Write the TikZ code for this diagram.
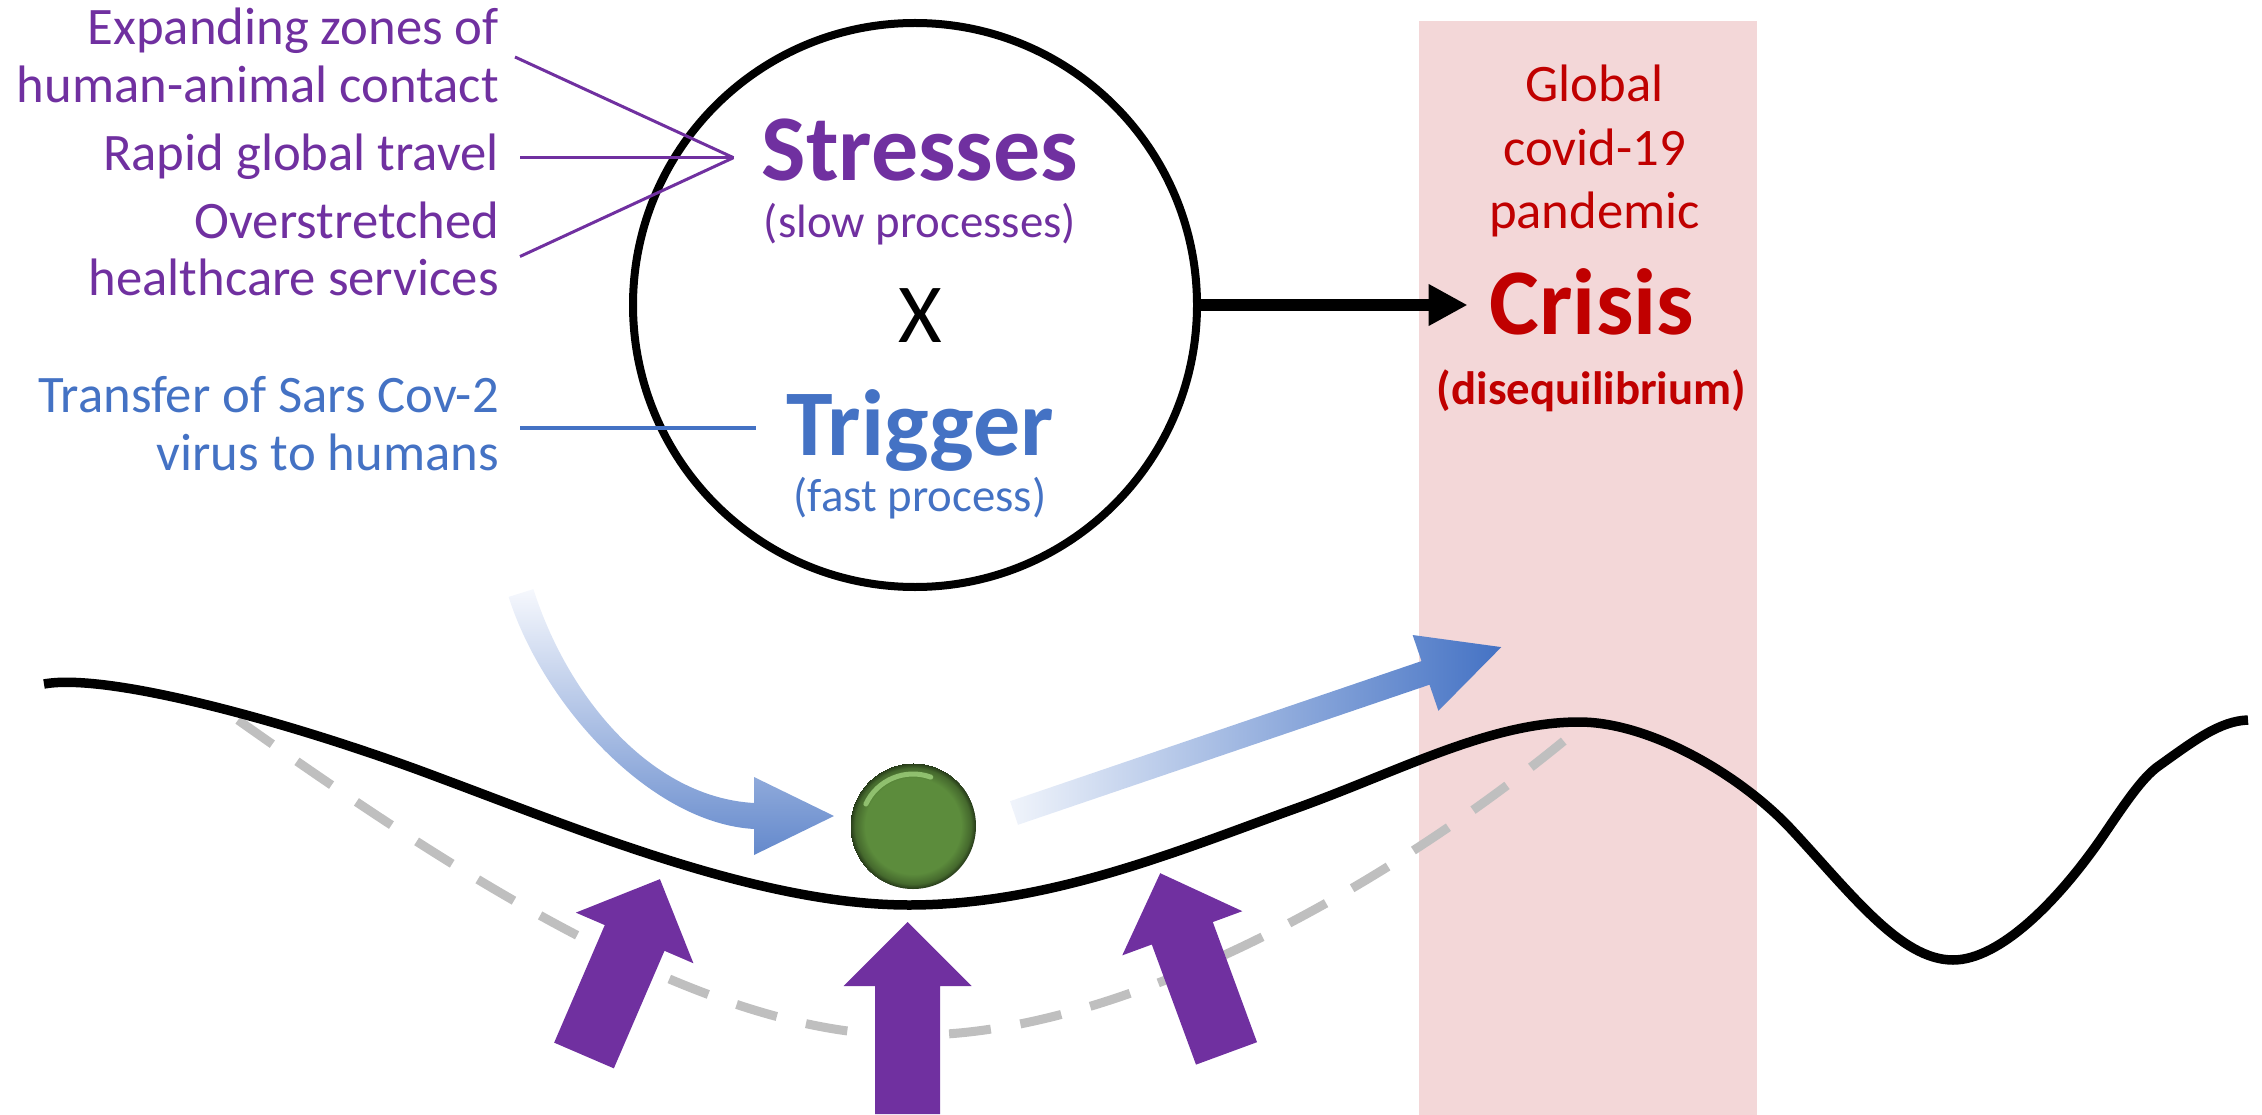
\documentclass[tikz,border=0pt]{standalone}
\usepackage{fontspec}
\setmainfont{Carlito}
\usetikzlibrary{arrows.meta,calc}

\definecolor{purp}{HTML}{7030A0}
\definecolor{tblue}{HTML}{4472C4}
\definecolor{cred}{HTML}{C00000}
\definecolor{pinkbg}{RGB}{243,215,216}
\definecolor{pathgray}{HTML}{BFBFBF}
\definecolor{ballg}{RGB}{92,140,60}
\definecolor{ballhi}{RGB}{165,215,130}
\definecolor{flowlight}{RGB}{246,248,253}
\definecolor{flowdeep}{RGB}{100,137,204}
\definecolor{flowtail}{RGB}{240,244,251}

\pgfdeclareradialshading{ballshade}{\pgfpoint{0bp}{0bp}}{%
  color(0bp)=(ballg); color(19bp)=(ballg); color(23bp)=(ballg!75!black); color(25bp)=(ballg!40!black)}

\begin{document}
\begin{tikzpicture}[x=1pt,y=-1pt,
  lab/.style={inner sep=0pt, font=\fontsize{52.7}{57.7}\selectfont, align=right, anchor=base east},
  headword/.style={inner sep=0pt, font=\bfseries\fontsize{94}{100}\selectfont, anchor=base},
  subword/.style={inner sep=0pt, font=\fontsize{46.8}{52}\selectfont, anchor=base},
  feed/.style={line width=3pt},
  blockarrow/.style={fill=purp},
]
\useasboundingbox (0,0) rectangle (2262,1115);

% crisis column
\fill[pinkbg] (1419,21) rectangle (1757,1115);

% underlying (dashed) stability basin
\draw[pathgray, line width=9pt, dash pattern=on 42pt off 30pt]
  (238,720) .. controls (450,870) and (700,1035) .. (905,1035)
  .. controls (1120,1040) and (1400,880) .. (1583,725);

% stability landscape
\draw[line width=9.5pt]
  (44,684) .. controls (110,672) and (300,725) .. (440,778)
  .. controls (580,830) and (760,905) .. (909,905)
  .. controls (1050,905) and (1180,850) .. (1297,808)
  .. controls (1400,771) and (1490,722) .. (1579,722)
  .. controls (1650,722) and (1740,775) .. (1790,828)
  .. controls (1850,892) and (1900,960) .. (1953,960)
  .. controls (2000,960) and (2060,900) .. (2107,830)
  .. controls (2130,796) and (2145,775) .. (2160,765)
  .. controls (2195,740) and (2220,721) .. (2248,720);

% purple support arrows
\foreach \px/\py/\ang in {584/1055.5/66.7, 907.5/1114/90, 1226.5/1053.4/110.2}{
  \begin{scope}[shift={(\px,\py)}, rotate=\ang]
    \fill[blockarrow] (0,-32.5) -- (128,-32.5) -- (128,-64) -- (192,0) -- (128,64)
      -- (128,32.5) -- (0,32.5) -- cycle;
  \end{scope}
}

% trigger arrow pushing the ball
\shade[top color=flowlight, bottom color=flowdeep]
  (508.6,596.9) .. controls (542.6,703.9) and (650,823) .. (754,829)
  -- (754,855) -- (834,816) -- (754,777) -- (754,803)
  .. controls (650,797) and (567.4,696.1) .. (533.4,589.1) -- cycle;

% arrow towards the crisis
\shade[left color=flowtail, right color=tblue]
  (1018.0,824.8) -- (1429.5,684.7) -- (1438.4,710.8) -- (1501.3,647.1)
  -- (1412.6,635.0) -- (1421.5,661.1) -- (1010.0,801.2) -- cycle;

% the ball
\node[circle, inner sep=0pt, minimum size=126pt] (ball) at (913,826) {};
\shade[shading=ballshade] (ball.center) circle (63);
\draw[ballhi, line width=5pt, opacity=0.75, line cap=round]
  (ball.center) ++(-155:52) arc (-155:-70:52);

% stresses x trigger
\node[circle, draw, line width=8pt, minimum size=564pt, inner sep=0pt] (core) at (915,305) {};
\node[headword, text=purp] (stresses) at (920,180.8) {Stresses};
\node[subword, text=purp] (slow) at (920,237.6) {(slow processes)};
\node[inner sep=0pt, anchor=base, font=\fontsize{84}{90}\selectfont] (times) at (920,342) {X};
\node[headword, text=tblue] (trigger) at (920,455.2) {Trigger};
\node[subword, text=tblue] (fast) at (920,511.4) {(fast process)};

% driver labels (anchored at the baseline of their last line)
\node[lab, text=purp] (zones) at (499,102.3) {Expanding zones of\\human-animal contact};
\node[lab, text=purp] (travel) at (499,170.5) {Rapid global travel};
\node[lab, text=purp] (health) at (499,296) {Overstretched\\healthcare services};
\node[lab, text=tblue] (virus) at (499,470) {Transfer of Sars Cov-2\\virus to humans};

\coordinate (sjoin) at (733.5,157.7);
\coordinate (zonesEnd) at (515,57);
\coordinate (travelEnd) at (520,157.7);
\coordinate (healthEnd) at (520,256.5);
\coordinate (virusEnd) at (520,428);
\coordinate (trigIn) at (756,428);
\draw[feed, purp] (zonesEnd) -- (sjoin);
\draw[feed, purp] (travelEnd) -- (sjoin);
\draw[feed, purp] (healthEnd) -- (sjoin);
\draw[feed, tblue, line width=3.5pt] (virusEnd) -- (trigIn);

% crisis
\node[lab, anchor=base, align=center, text=cred, font=\fontsize{52.7}{63.4}\selectfont]
  (pandemic) at (1594.5,228.6) {Global\\covid-19\\pandemic};
\node[headword, text=cred] (crisis) at (1592,334.8) {Crisis};
\node[subword, text=cred, font=\bfseries\fontsize{46.8}{52}\selectfont] (diseq) at (1591.5,404) {(disequilibrium)};

\draw[line width=12.5pt, -{Triangle[length=39pt, width=39pt]}]
  (core.east) -- ($(core.east -| crisis.west)+(-22,0)$);
\end{tikzpicture}
\end{document}
